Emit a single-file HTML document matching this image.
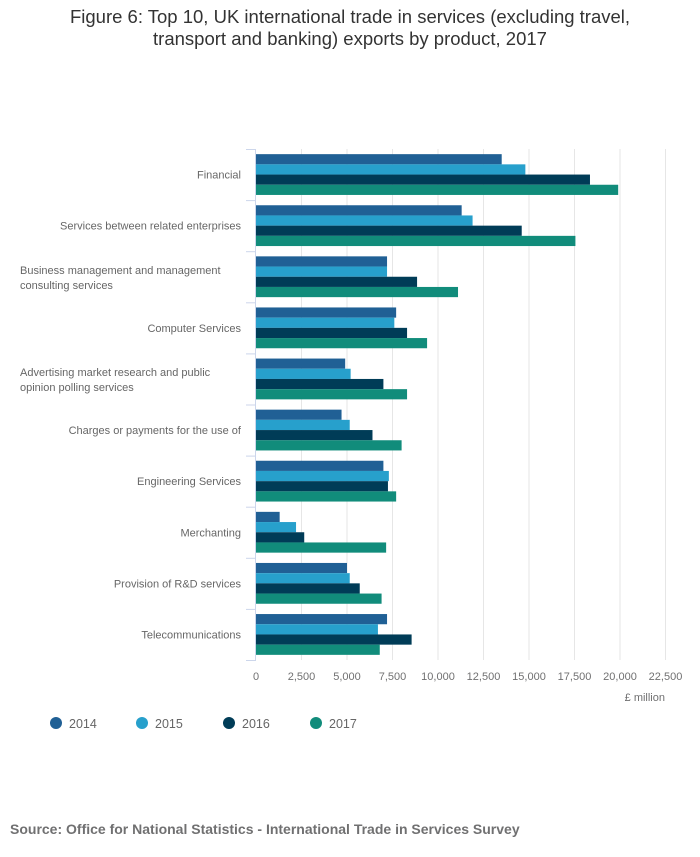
<!DOCTYPE html>
<html><head><meta charset="utf-8">
<style>
body{margin:0;background:#fff;width:700px;height:857px;overflow:hidden;font-family:"Liberation Sans",sans-serif;}
#title{position:absolute;top:6px;left:0;width:700px;text-align:center;font-size:18.5px;line-height:22px;color:#333;}
#source{position:absolute;left:10px;top:821px;font-size:14px;font-weight:bold;color:#707071;}
svg{position:absolute;left:0;top:0;}
</style></head>
<body>
<div id="title">Figure 6: Top 10, UK international trade in services (excluding travel,<br>transport and banking) exports by product, 2017</div>
<svg id="chart" width="700" height="857"></svg>
<div id="source">Source: Office for National Statistics - International Trade in Services Survey</div>
<script>
const categories=[["Financial"],["Services between related enterprises"],["Business management and management","consulting services"],["Computer Services"],["Advertising market research and public","opinion polling services"],["Charges or payments for the use of"],["Engineering Services"],["Merchanting"],["Provision of R&D services"],["Telecommunications"]];
const series=["2014","2015","2016","2017"];
const v2014=[13500,11300,7200,7700,4900,4700,7000,1300,5000,7200];
const v2015=[14800,11900,7200,7600,5200,5150,7300,2200,5150,6700];
const v2016=[18350,14600,8850,8300,7000,6400,7250,2650,5700,8550];
const v2017=[19900,17550,11100,9400,8300,8000,7700,7150,6900,6800];
const ticks=[0,2500,5000,7500,10000,12500,15000,17500,20000,22500];
const colors=["#206095","#27a0cc","#003c57","#118c7b"];
const vals=[v2014,v2015,v2016,v2017];
const NS="http://www.w3.org/2000/svg";
const svg=document.getElementById("chart");
const x0=256,xMax=22500,pw=409.5,yTop=149,yBottom=660;
const X=v=>x0+v/xMax*pw;
const band=(yBottom-yTop)/categories.length;
const Y=i=>yTop+i*band;
function mk(t,a,p){const e=document.createElementNS(NS,t);for(const k in a)e.setAttribute(k,a[k]);(p||svg).appendChild(e);return e;}
ticks.forEach(t=>{
 if(t>0){const g=mk("line",{x1:X(t),x2:X(t),y1:yTop,y2:yBottom,stroke:"#e6e6e6","stroke-width":1});
 
 }
 const l=mk("text",{x:X(t),y:680,"text-anchor":"middle","font-size":11,fill:"#707071"});l.textContent=t.toLocaleString("en-GB");
 
 
});
const ax=mk("line",{x1:x0-0.5,x2:x0-0.5,y1:yTop,y2:yBottom,stroke:"#ccd6eb","stroke-width":1});


for(let i=0;i<=categories.length;i++){const t=mk("line",{x1:246,x2:x0,y1:Y(i)+0.5,y2:Y(i)+0.5,stroke:"#ccd6eb"});
 
 }
const bh=10.2;
categories.forEach((c,i)=>{
 const cy=Y(i)+band/2;
 let tx;
 if(c.length===1){
  tx=mk("text",{x:241,y:cy+4,"text-anchor":"end","font-size":11,fill:"#666"});
  tx.textContent=c[0];
 } else {
  tx=mk("text",{"font-size":11,fill:"#666"});
  mk("tspan",{x:20,y:cy-3},tx).textContent=c[0];
  mk("tspan",{x:20,y:cy+12},tx).textContent=c[1];
 }
 
 
 const gy=cy-2*bh;
 vals.forEach((s,j)=>{
  const r=mk("rect",{x:x0,y:gy+j*bh,width:X(s[i])-x0,height:bh,fill:colors[j]});
  
  
 });
});
const un=mk("text",{x:665,y:701,"text-anchor":"end","font-size":11,fill:"#707071"});un.textContent="£ million";


const lx=[56,142,229,316];
series.forEach((s,j)=>{
 const c=mk("circle",{cx:lx[j],cy:723,r:6,fill:colors[j]});
 
 
 const t=mk("text",{x:lx[j]+13,y:728,"font-size":12.5,fill:"#666"});t.textContent=s;
 
 
});
</script>
</body></html>
